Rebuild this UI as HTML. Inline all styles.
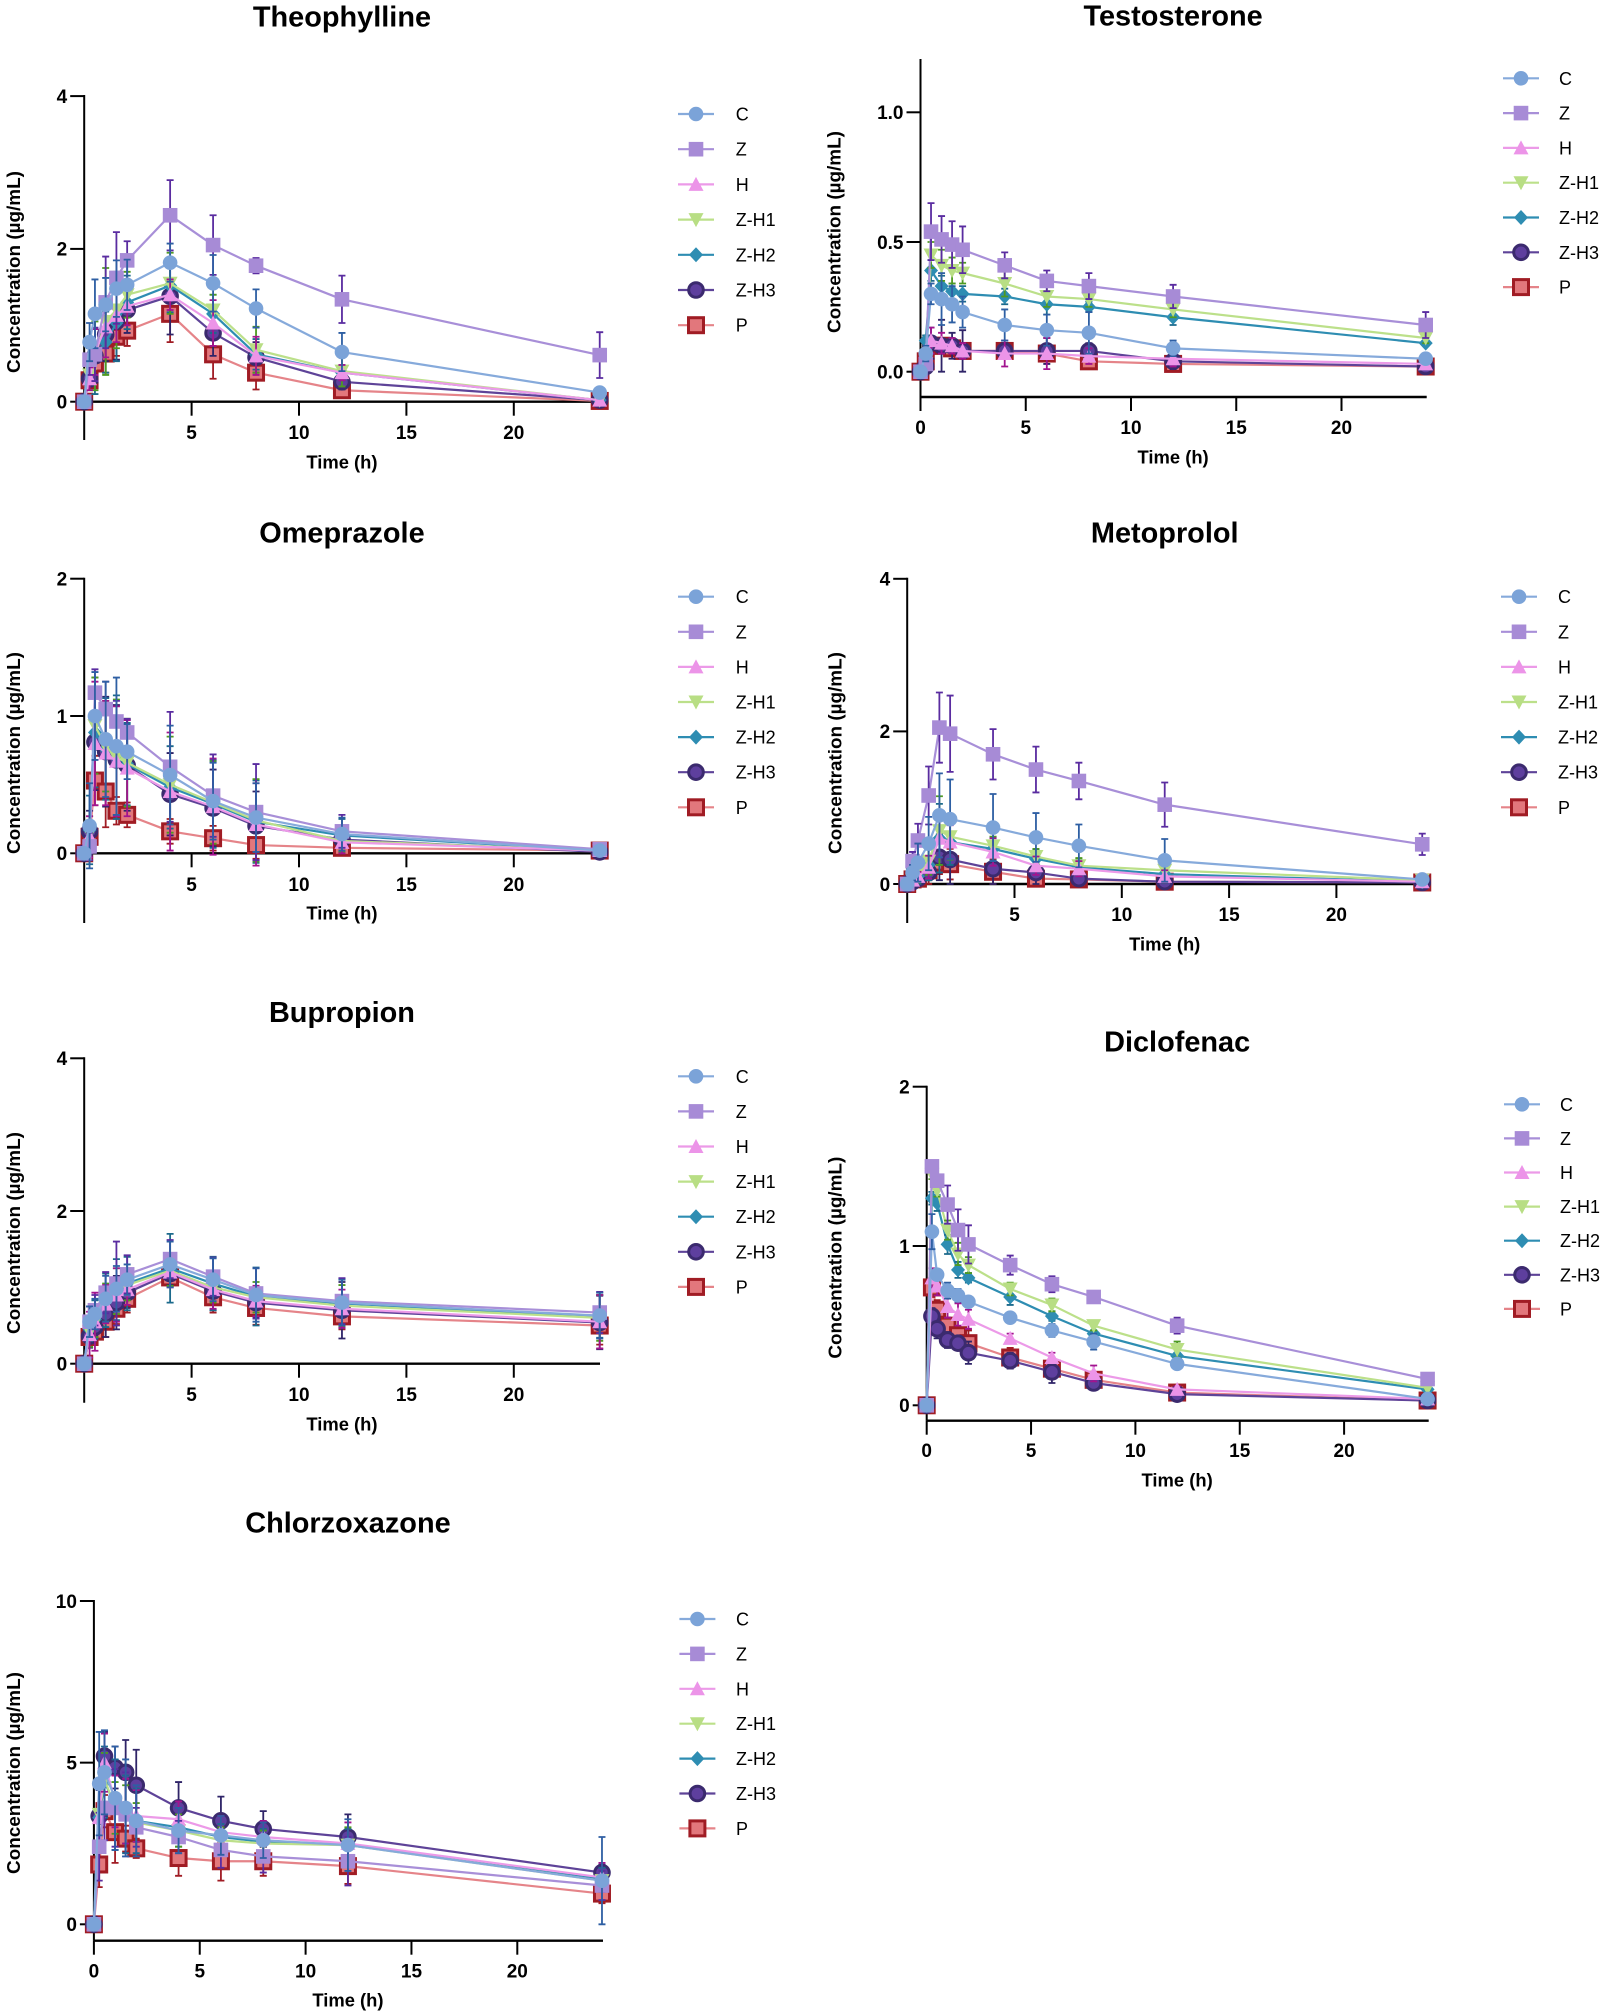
<!DOCTYPE html>
<html lang="en">
<head>
<meta charset="utf-8">
<title>Plasma concentration-time profiles</title>
<style>
html,body{margin:0;padding:0;background:#fff}
svg{display:block;font-family:"Liberation Sans",sans-serif}
</style>
</head>
<body>
<svg id="figure" xmlns="http://www.w3.org/2000/svg" width="1604" height="2015" viewBox="0 0 1604 2015"></svg>
<script>
// Shared categories
const timePoints = [0, 0.25, 0.5, 1, 1.5, 2, 4, 6, 8, 12, 24];
const seriesNames = ["C", "Z", "H", "Z-H1", "Z-H2", "Z-H3", "P"];
const xTicksFull = [0, 5, 10, 15, 20];
const xTicksNoZero = [5, 10, 15, 20];

// Theophylline
const theoYTicks = ["0", "2", "4"];
const theoC = [0, 0.78, 1.15, 1.27, 1.48, 1.53, 1.82, 1.55, 1.22, 0.65, 0.12];
const theoZ = [0, 0.55, 0.62, 1.3, 1.62, 1.85, 2.44, 2.05, 1.78, 1.34, 0.61];
const theoH = [0, 0.3, 0.65, 0.98, 1.13, 1.25, 1.4, 1.03, 0.6, 0.38, 0.02];
const theoZH1 = [0, 0.35, 0.6, 1.05, 1.2, 1.4, 1.55, 1.2, 0.68, 0.4, 0.02];
const theoZH2 = [0, 0.5, 0.6, 0.78, 1.03, 1.3, 1.52, 1.15, 0.62, 0.38, 0.02];
const theoZH3 = [0, 0.3, 0.6, 0.88, 1.05, 1.2, 1.38, 0.9, 0.58, 0.26, 0.02];
const theoP = [0, 0.28, 0.5, 0.63, 0.85, 0.93, 1.15, 0.62, 0.38, 0.15, 0.01];
const theoCErr = [0, 0.25, 0.45, 0.35, 0.37, 0.33, 0.25, 0.37, 0.25, 0.25, 0.03];
const theoZErr = [0, 0.2, 0.35, 0.6, 0.6, 0.25, 0.46, 0.39, 0.1, 0.31, 0.3];
const theoHErr = [0, 0.15, 0.3, 0.4, 0.35, 0.25, 0.2, 0.3, 0.25, 0.1, 0.02];
const theoZH1Err = [0, 0.2, 0.45, 0.7, 0.5, 0.3, 0.4, 0.2, 0.3, 0.2, 0.02];
const theoZH2Err = [0, 0.2, 0.5, 0.4, 0.5, 0.35, 0.35, 0.25, 0.2, 0.1, 0.02];
const theoZH3Err = [0, 0.1, 0.35, 0.35, 0.5, 0.3, 0.5, 0.3, 0.2, 0.1, 0.02];
const theoPErr = [0, 0.05, 0.15, 0.25, 0.25, 0.2, 0.37, 0.32, 0.22, 0.1, 0.02];

// Testosterone
const testoYTicks = ["0.0", "0.5", "1.0"];
const testoC = [0, 0.07, 0.3, 0.28, 0.26, 0.23, 0.18, 0.16, 0.15, 0.09, 0.05];
const testoZ = [0, 0.03, 0.54, 0.51, 0.49, 0.47, 0.41, 0.35, 0.33, 0.29, 0.18];
const testoH = [0, 0.03, 0.12, 0.11, 0.1, 0.08, 0.07, 0.07, 0.06, 0.05, 0.03];
const testoZH1 = [0, 0.05, 0.45, 0.41, 0.39, 0.38, 0.34, 0.29, 0.28, 0.24, 0.13];
const testoZH2 = [0, 0.12, 0.39, 0.33, 0.31, 0.3, 0.29, 0.26, 0.25, 0.21, 0.11];
const testoZH3 = [0, 0.02, 0.11, 0.1, 0.1, 0.08, 0.08, 0.08, 0.08, 0.04, 0.02];
const testoP = [0, 0.04, 0.1, 0.1, 0.09, 0.08, 0.08, 0.07, 0.04, 0.03, 0.02];
const testoCErr = [0, 0.03, 0.04, 0.1, 0.07, 0.06, 0.06, 0.06, 0.08, 0.03, 0.02];
const testoZErr = [0, 0.02, 0.11, 0.09, 0.09, 0.09, 0.05, 0.04, 0.05, 0.045, 0.05];
const testoHErr = [0, 0.02, 0.05, 0.04, 0.03, 0.03, 0.05, 0.06, 0.03, 0.03, 0.02];
const testoZH1Err = [0, 0.03, 0.05, 0.06, 0.05, 0.04, 0.05, 0.04, 0.03, 0.03, 0.02];
const testoZH2Err = [0, 0.02, 0.04, 0.04, 0.03, 0.03, 0.03, 0.04, 0.02, 0.03, 0.01];
const testoZH3Err = [0, 0.02, 0.06, 0.1, 0.05, 0.08, 0.03, 0.05, 0.03, 0.03, 0.02];
const testoPErr = [0, 0.02, 0.03, 0.03, 0.03, 0.02, 0.03, 0.03, 0.01, 0.02, 0.01];

// Omeprazole
const omeYTicks = ["0", "1", "2"];
const omeC = [0, 0.2, 1.0, 0.83, 0.78, 0.74, 0.57, 0.38, 0.26, 0.14, 0.02];
const omeZ = [0, 0.05, 1.17, 1.05, 0.96, 0.88, 0.63, 0.42, 0.3, 0.16, 0.03];
const omeH = [0, 0.12, 0.8, 0.73, 0.67, 0.62, 0.45, 0.34, 0.21, 0.08, 0.02];
const omeZH1 = [0, 0.15, 0.93, 0.78, 0.7, 0.66, 0.5, 0.37, 0.24, 0.09, 0.02];
const omeZH2 = [0, 0.17, 0.88, 0.76, 0.7, 0.65, 0.48, 0.36, 0.23, 0.13, 0.02];
const omeZH3 = [0, 0.16, 0.81, 0.74, 0.68, 0.64, 0.43, 0.33, 0.2, 0.1, 0.01];
const omeP = [0, 0.12, 0.53, 0.45, 0.31, 0.28, 0.16, 0.11, 0.06, 0.04, 0.02];
const omeCErr = [0, 0.31, 0.32, 0.42, 0.5, 0.2, 0.36, 0.28, 0.25, 0.12, 0.01];
const omeZErr = [0, 0.1, 0.17, 0.2, 0.15, 0.1, 0.4, 0.3, 0.35, 0.12, 0.01];
const omeHErr = [0, 0.15, 0.45, 0.38, 0.4, 0.35, 0.43, 0.35, 0.3, 0.08, 0.01];
const omeZH1Err = [0, 0.12, 0.35, 0.33, 0.42, 0.32, 0.35, 0.3, 0.3, 0.08, 0.01];
const omeZH2Err = [0, 0.25, 0.4, 0.37, 0.45, 0.3, 0.3, 0.32, 0.3, 0.12, 0.01];
const omeZH3Err = [0, 0.15, 0.35, 0.4, 0.4, 0.33, 0.3, 0.28, 0.25, 0.1, 0.01];
const omePErr = [0, 0.1, 0.18, 0.26, 0.1, 0.09, 0.09, 0.09, 0.1, 0.04, 0.01];

// Metoprolol
const metoYTicks = ["0", "2", "4"];
const metoC = [0, 0.15, 0.28, 0.53, 0.9, 0.85, 0.74, 0.61, 0.5, 0.31, 0.06];
const metoZ = [0, 0.3, 0.57, 1.16, 2.05, 1.97, 1.7, 1.5, 1.35, 1.04, 0.52];
const metoH = [0, 0.05, 0.1, 0.22, 0.6, 0.55, 0.42, 0.24, 0.2, 0.1, 0.03];
const metoZH1 = [0, 0.05, 0.12, 0.3, 0.7, 0.62, 0.5, 0.36, 0.24, 0.18, 0.05];
const metoZH2 = [0, 0.05, 0.1, 0.25, 0.6, 0.55, 0.46, 0.33, 0.22, 0.13, 0.03];
const metoZH3 = [0, 0.03, 0.07, 0.15, 0.35, 0.32, 0.2, 0.15, 0.07, 0.03, 0.02];
const metoP = [0, 0.06, 0.07, 0.18, 0.28, 0.26, 0.16, 0.07, 0.06, 0.03, 0.02];
const metoCErr = [0, 0.1, 0.25, 0.35, 0.55, 0.52, 0.44, 0.32, 0.28, 0.28, 0.02];
const metoZErr = [0, 0.12, 0.22, 0.38, 0.46, 0.5, 0.33, 0.3, 0.24, 0.29, 0.14];
const metoHErr = [0, 0.03, 0.06, 0.15, 0.25, 0.22, 0.18, 0.12, 0.1, 0.08, 0.02];
const metoZH1Err = [0, 0.03, 0.1, 0.18, 0.45, 0.3, 0.12, 0.1, 0.1, 0.08, 0.03];
const metoZH2Err = [0, 0.03, 0.1, 0.2, 0.45, 0.3, 0.15, 0.12, 0.1, 0.12, 0.02];
const metoZH3Err = [0, 0.03, 0.05, 0.1, 0.3, 0.32, 0.2, 0.15, 0.07, 0.05, 0.02];
const metoPErr = [0, 0.05, 0.05, 0.18, 0.15, 0.2, 0.16, 0.07, 0.05, 0.03, 0.02];

// Bupropion
const bupYTicks = ["0", "2", "4"];
const bupC = [0, 0.55, 0.65, 0.85, 0.98, 1.1, 1.3, 1.1, 0.9, 0.8, 0.63];
const bupZ = [0, 0.55, 0.7, 0.93, 1.05, 1.17, 1.37, 1.14, 0.92, 0.82, 0.67];
const bupH = [0, 0.38, 0.55, 0.78, 0.9, 0.97, 1.2, 0.97, 0.82, 0.72, 0.55];
const bupZH1 = [0, 0.42, 0.55, 0.8, 0.95, 1.03, 1.22, 1.0, 0.87, 0.76, 0.6];
const bupZH2 = [0, 0.45, 0.58, 0.83, 0.97, 1.05, 1.25, 1.05, 0.88, 0.79, 0.62];
const bupZH3 = [0, 0.36, 0.48, 0.65, 0.8, 0.93, 1.18, 0.95, 0.8, 0.7, 0.54];
const bupP = [0, 0.35, 0.42, 0.55, 0.72, 0.85, 1.13, 0.87, 0.73, 0.62, 0.5];
const bupCErr = [0, 0.2, 0.2, 0.3, 0.3, 0.2, 0.3, 0.28, 0.35, 0.3, 0.3];
const bupZErr = [0, 0.2, 0.2, 0.27, 0.55, 0.25, 0.25, 0.25, 0.33, 0.3, 0.27];
const bupHErr = [0, 0.3, 0.38, 0.25, 0.35, 0.2, 0.2, 0.25, 0.2, 0.25, 0.35];
const bupZH1Err = [0, 0.2, 0.2, 0.25, 0.3, 0.2, 0.2, 0.2, 0.2, 0.27, 0.3];
const bupZH2Err = [0, 0.15, 0.25, 0.35, 0.4, 0.35, 0.45, 0.35, 0.38, 0.32, 0.28];
const bupZH3Err = [0, 0.15, 0.15, 0.3, 0.35, 0.2, 0.15, 0.25, 0.2, 0.37, 0.35];
const bupPErr = [0, 0.1, 0.12, 0.2, 0.2, 0.18, 0.12, 0.2, 0.22, 0.17, 0.25];

// Diclofenac
const dicloYTicks = ["0", "1", "2"];
const dicloC = [0, 1.09, 0.82, 0.72, 0.69, 0.65, 0.55, 0.47, 0.4, 0.26, 0.04];
const dicloZ = [0, 1.5, 1.41, 1.26, 1.1, 1.01, 0.88, 0.76, 0.68, 0.5, 0.165];
const dicloH = [0, 0.8, 0.75, 0.62, 0.57, 0.54, 0.42, 0.3, 0.2, 0.1, 0.04];
const dicloZH1 = [0, 1.45, 1.35, 1.1, 0.95, 0.88, 0.73, 0.63, 0.5, 0.35, 0.11];
const dicloZH2 = [0, 1.3, 1.27, 1.01, 0.85, 0.8, 0.68, 0.56, 0.45, 0.31, 0.1];
const dicloZH3 = [0, 0.56, 0.48, 0.41, 0.39, 0.33, 0.28, 0.21, 0.14, 0.07, 0.03];
const dicloP = [0, 0.74, 0.6, 0.5, 0.44, 0.39, 0.3, 0.23, 0.16, 0.08, 0.03];
const dicloCErr = [0, 0.11, 0.03, 0.05, 0.04, 0.03, 0.03, 0.04, 0.05, 0.03, 0.01];
const dicloZErr = [0, 0.03, 0.03, 0.12, 0.13, 0.12, 0.06, 0.05, 0.03, 0.05, 0.01];
const dicloHErr = [0, 0.06, 0.06, 0.07, 0.07, 0.06, 0.03, 0.03, 0.05, 0.02, 0.01];
const dicloZH1Err = [0, 0.03, 0.04, 0.06, 0.07, 0.05, 0.04, 0.04, 0.03, 0.05, 0.01];
const dicloZH2Err = [0, 0.04, 0.05, 0.06, 0.05, 0.03, 0.05, 0.03, 0.02, 0.02, 0.02];
const dicloZH3Err = [0, 0.05, 0.06, 0.05, 0.04, 0.07, 0.05, 0.07, 0.03, 0.02, 0.01];
const dicloPErr = [0, 0.06, 0.06, 0.05, 0.05, 0.08, 0.06, 0.05, 0.03, 0.02, 0.01];

// Chlorzoxazone
const chlorYTicks = ["0", "5", "10"];
const chlorC = [0, 4.35, 4.7, 3.9, 3.6, 3.2, 2.9, 2.75, 2.6, 2.45, 1.35];
const chlorZ = [0, 2.4, 3.6, 3.6, 3.4, 3.0, 2.7, 2.3, 2.1, 1.95, 1.2];
const chlorH = [0, 3.3, 5.0, 3.8, 3.5, 3.35, 3.25, 2.85, 2.7, 2.5, 1.45];
const chlorZH1 = [0, 3.4, 4.5, 3.6, 3.4, 3.15, 2.9, 2.6, 2.5, 2.45, 1.35];
const chlorZH2 = [0, 3.3, 4.4, 3.7, 3.4, 3.2, 3.0, 2.7, 2.55, 2.45, 1.4];
const chlorZH3 = [0, 3.35, 5.2, 4.85, 4.7, 4.3, 3.6, 3.2, 2.95, 2.7, 1.6];
const chlorP = [0, 1.85, 3.5, 2.85, 2.65, 2.35, 2.05, 1.95, 1.95, 1.8, 0.95];
const chlorCErr = [0, 1.6, 1.3, 1.6, 1.5, 1.1, 0.7, 0.6, 0.55, 0.8, 1.35];
const chlorZErr = [0, 1.05, 1.0, 1.2, 1.3, 0.6, 0.5, 0.55, 0.5, 0.75, 0.45];
const chlorHErr = [0, 1.0, 0.9, 0.8, 1.0, 0.8, 0.55, 0.5, 0.5, 0.65, 0.45];
const chlorZH1Err = [0, 0.9, 0.8, 0.8, 0.9, 0.6, 0.5, 0.4, 0.4, 0.55, 0.3];
const chlorZH2Err = [0, 1.0, 1.1, 1.4, 1.2, 1.0, 0.6, 0.4, 0.4, 0.5, 0.35];
const chlorZH3Err = [0, 0.8, 0.75, 0.65, 1.0, 1.1, 0.8, 0.75, 0.55, 0.7, 0.25];
const chlorPErr = [0, 0.7, 0.5, 0.95, 0.4, 0.3, 0.55, 0.6, 0.45, 0.55, 0.3];

const seriesStyles = [
  {line:"#86aadb", fill:"#7ba3d8", err:"#2e5fa3", shape:"circle"},
  {line:"#a88fd8", fill:"#a78bd6", err:"#5a2ca0", shape:"square"},
  {line:"#ec9ae8", fill:"#ec94e8", err:"#a2148f", shape:"up"},
  {line:"#bce08a", fill:"#b8de84", err:"#4e9a22", shape:"down"},
  {line:"#2e8db2", fill:"#2e8db2", err:"#1c6a8c", shape:"diamond"},
  {line:"#5e4398", fill:"#5e3f9e", err:"#2f2468", shape:"ring"},
  {line:"#e58489", fill:"#e2777c", err:"#a01c24", shape:"box"}
];

const panels = [
  {name:"theophylline", title:"Theophylline", means:[theoC,theoZ,theoH,theoZH1,theoZH2,theoZH3,theoP], errs:[theoCErr,theoZErr,theoHErr,theoZH1Err,theoZH2Err,theoZH3Err,theoPErr],
   yTicks:theoYTicks, xTicks:xTicksNoZero, x0:84.2, pxPerHour:21.48, y0:401.7, pxPerUnit:76.4, axisTop:96, axisBottom:440, xAxisY:401.7, xAxisEnd:607, tickLabelY:432, xTitleY:462, titleY:17, yTitleX:13.3, yTitleY:272,
   legendX:696, legendTextX:735.7, legendY:114, legendStep:35.2},
  {name:"testosterone", title:"Testosterone", means:[testoC,testoZ,testoH,testoZH1,testoZH2,testoZH3,testoP], errs:[testoCErr,testoZErr,testoHErr,testoZH1Err,testoZH2Err,testoZH3Err,testoPErr],
   yTicks:testoYTicks, xTicks:xTicksFull, x0:920.5, pxPerHour:21.05, y0:371.7, pxPerUnit:259.4, axisTop:60, axisBottom:397, xAxisY:397, xAxisEnd:1426.7, tickLabelY:427, xTitleY:457, titleY:16, yTitleX:833.9, yTitleY:232,
   legendX:1521, legendTextX:1559, legendY:78.3, legendStep:34.8},
  {name:"omeprazole", title:"Omeprazole", means:[omeC,omeZ,omeH,omeZH1,omeZH2,omeZH3,omeP], errs:[omeCErr,omeZErr,omeHErr,omeZH1Err,omeZH2Err,omeZH3Err,omePErr],
   yTicks:omeYTicks, xTicks:xTicksNoZero, x0:84.2, pxPerHour:21.48, y0:853.3, pxPerUnit:137.3, axisTop:578.7, axisBottom:923, xAxisY:853.3, xAxisEnd:607, tickLabelY:884, xTitleY:913, titleY:533, yTitleX:13.3, yTitleY:753,
   legendX:696, legendTextX:735.7, legendY:596.7, legendStep:35.1},
  {name:"metoprolol", title:"Metoprolol", means:[metoC,metoZ,metoH,metoZH1,metoZH2,metoZH3,metoP], errs:[metoCErr,metoZErr,metoHErr,metoZH1Err,metoZH2Err,metoZH3Err,metoPErr],
   yTicks:metoYTicks, xTicks:xTicksNoZero, x0:907.2, pxPerHour:21.46, y0:884, pxPerUnit:76.3, axisTop:578.7, axisBottom:923, xAxisY:884, xAxisEnd:1428, tickLabelY:914, xTitleY:944, titleY:533, yTitleX:835, yTitleY:753,
   legendX:1519, legendTextX:1558, legendY:596.7, legendStep:35.1},
  {name:"bupropion", title:"Bupropion", means:[bupC,bupZ,bupH,bupZH1,bupZH2,bupZH3,bupP], errs:[bupCErr,bupZErr,bupHErr,bupZH1Err,bupZH2Err,bupZH3Err,bupPErr],
   yTicks:bupYTicks, xTicks:xTicksNoZero, x0:84.2, pxPerHour:21.48, y0:1363.7, pxPerUnit:76.35, axisTop:1058.3, axisBottom:1402.7, xAxisY:1363.7, xAxisEnd:600, tickLabelY:1394, xTitleY:1424, titleY:1012.7, yTitleX:13.3, yTitleY:1233,
   legendX:696, legendTextX:735.7, legendY:1076.3, legendStep:35.1},
  {name:"diclofenac", title:"Diclofenac", means:[dicloC,dicloZ,dicloH,dicloZH1,dicloZH2,dicloZH3,dicloP], errs:[dicloCErr,dicloZErr,dicloHErr,dicloZH1Err,dicloZH2Err,dicloZH3Err,dicloPErr],
   yTicks:dicloYTicks, xTicks:xTicksFull, x0:926.7, pxPerHour:20.87, y0:1405.3, pxPerUnit:159.3, axisTop:1086.7, axisBottom:1420.7, xAxisY:1420.7, xAxisEnd:1428.7, tickLabelY:1450, xTitleY:1480, titleY:1042, yTitleX:835, yTitleY:1257.7,
   legendX:1522, legendTextX:1560, legendY:1104.3, legendStep:34.1},
  {name:"chlorzoxazone", title:"Chlorzoxazone", means:[chlorC,chlorZ,chlorH,chlorZH1,chlorZH2,chlorZH3,chlorP], errs:[chlorCErr,chlorZErr,chlorHErr,chlorZH1Err,chlorZH2Err,chlorZH3Err,chlorPErr],
   yTicks:chlorYTicks, xTicks:xTicksFull, x0:93.9, pxPerHour:21.17, y0:1924.3, pxPerUnit:32.33, axisTop:1601, axisBottom:1940.7, xAxisY:1940.7, xAxisEnd:603, tickLabelY:1970.7, xTitleY:2000, titleY:1523, yTitleX:13.3, yTitleY:1773,
   legendX:697.4, legendTextX:736, legendY:1619, legendStep:34.9}
];

const NS = "http://www.w3.org/2000/svg";
const figure = document.getElementById("figure");

function mk(parent, tag, attrs, text) {
  const n = document.createElementNS(NS, tag);
  for (const k in attrs) n.setAttribute(k, attrs[k]);
  if (text !== undefined) n.textContent = text;
  parent.appendChild(n);
  return n;
}

function drawMarker(parent, shape, cx, cy, style) {
  const r = 7.3;
  let m;
  if (shape === "circle") {
    m = mk(parent, "circle", {cx:cx, cy:cy, r:r, fill:style.fill});
  } else if (shape === "square") {
    m = mk(parent, "rect", {x:cx-r, y:cy-r, width:2*r, height:2*r, fill:style.fill});
  } else if (shape === "up") {
    m = mk(parent, "polygon", {points:(cx-7.5)+","+(cy+6.5)+" "+(cx+7.5)+","+(cy+6.5)+" "+cx+","+(cy-7.5), fill:style.fill});
  } else if (shape === "down") {
    m = mk(parent, "polygon", {points:(cx-7.5)+","+(cy-6.5)+" "+(cx+7.5)+","+(cy-6.5)+" "+cx+","+(cy+7.5), fill:style.fill});
  } else if (shape === "diamond") {
    m = mk(parent, "polygon", {points:(cx-7)+","+cy+" "+cx+","+(cy-7.5)+" "+(cx+7)+","+cy+" "+cx+","+(cy+7.5), fill:style.fill});
  } else if (shape === "ring") {
    m = mk(parent, "circle", {cx:cx, cy:cy, r:7.3, fill:style.fill, stroke:"#3b2a6e", "stroke-width":3});
  } else {
    m = mk(parent, "rect", {x:cx-7.5, y:cy-7.5, width:15, height:15, fill:style.fill, stroke:"#a01c24", "stroke-width":3});
  }
  return m;
}

panels.forEach(function (p) {
  const xScale = function (t) { return p.x0 + t * p.pxPerHour; };
  const yScale = function (v) { return p.y0 - v * p.pxPerUnit; };

  const g = mk(figure, "g", {});
  
  

  const title = mk(g, "text", {x:xScale(12), y:p.titleY+9.5, "text-anchor":"middle", "font-size":28.9, "font-weight":"bold", fill:"#000"}, p.title);
  
  

  const yAxis = mk(g, "line", {x1:p.x0, x2:p.x0, y1:p.axisTop-1, y2:p.axisBottom, stroke:"#000", "stroke-width":2});
  
  

  const xAxis = mk(g, "line", {x1:p.x0, x2:p.xAxisEnd, y1:p.xAxisY, y2:p.xAxisY, stroke:"#000", "stroke-width":2.4});
  
  

  p.yTicks.forEach(function (label) {
    const y = yScale(parseFloat(label));
    const tick = mk(g, "line", {x1:p.x0-14, x2:p.x0, y1:y, y2:y, stroke:"#000", "stroke-width":2});
    
    
    const t = mk(g, "text", {x:p.x0-17, y:y+6.8, "text-anchor":"end", "font-size":19, "font-weight":"bold", fill:"#000"}, label);
    
    
  });

  p.xTicks.forEach(function (value) {
    const x = xScale(value);
    const tick = mk(g, "line", {x1:x, x2:x, y1:p.xAxisY, y2:p.xAxisY+14, stroke:"#000", "stroke-width":2});
    
    
    const t = mk(g, "text", {x:x, y:p.tickLabelY+6.8, "text-anchor":"middle", "font-size":19, "font-weight":"bold", fill:"#000"}, String(value));
    
    
  });

  const xTitle = mk(g, "text", {x:xScale(12), y:p.xTitleY+6.5, "text-anchor":"middle", "font-size":18.4, "font-weight":"bold", fill:"#000"}, "Time (h)");
  
  

  const yTitle = mk(g, "text", {transform:"translate("+(p.yTitleX+6.5)+","+p.yTitleY+") rotate(-90)", "text-anchor":"middle", "font-size":18.9, "font-weight":"bold", fill:"#000"}, "Concentration (µg/mL)");
  
  

  // Series are painted back to front so that the first listed group sits on top.
  for (let s = seriesNames.length - 1; s >= 0; s--) {
    const style = seriesStyles[s];
    const vals = p.means[s];
    const errs = p.errs[s];
    const sg = mk(g, "g", {});
    
    

    const pts = timePoints.map(function (t, i) { return xScale(t) + "," + yScale(vals[i]); }).join(" ");
    const line = mk(sg, "polyline", {points:pts, fill:"none", stroke:style.line, "stroke-width":2.2, "stroke-linejoin":"round"});
    
    

    timePoints.forEach(function (t, i) {
      if (!errs[i]) return;
      const cx = xScale(t);
      const hi = yScale(vals[i] + errs[i]);
      const lo = yScale(vals[i] - errs[i]);
      const d = "M"+cx+" "+hi+"V"+lo+"M"+(cx-3.5)+" "+hi+"H"+(cx+3.5)+"M"+(cx-3.5)+" "+lo+"H"+(cx+3.5);
      const bar = mk(sg, "path", {d:d, fill:"none", stroke:style.err, "stroke-width":1.8});
      
      
    });

    timePoints.forEach(function (t, i) {
      const marker = drawMarker(sg, style.shape, xScale(t), yScale(vals[i]), style);
      
      
    });
  }

  const legend = mk(g, "g", {});
  
  
  seriesNames.forEach(function (name, i) {
    const y = p.legendY + i * p.legendStep;
    const style = seriesStyles[i];
    const entry = mk(legend, "g", {});
    
    
    mk(entry, "line", {x1:p.legendX-18, x2:p.legendX+18, y1:y, y2:y, stroke:style.line, "stroke-width":2.2});
    drawMarker(entry, style.shape, p.legendX, y, style);
    mk(entry, "text", {x:p.legendTextX, y:y+6.5, "font-size":18, fill:"#000"}, name);
  });
});
</script>
</body>
</html>
